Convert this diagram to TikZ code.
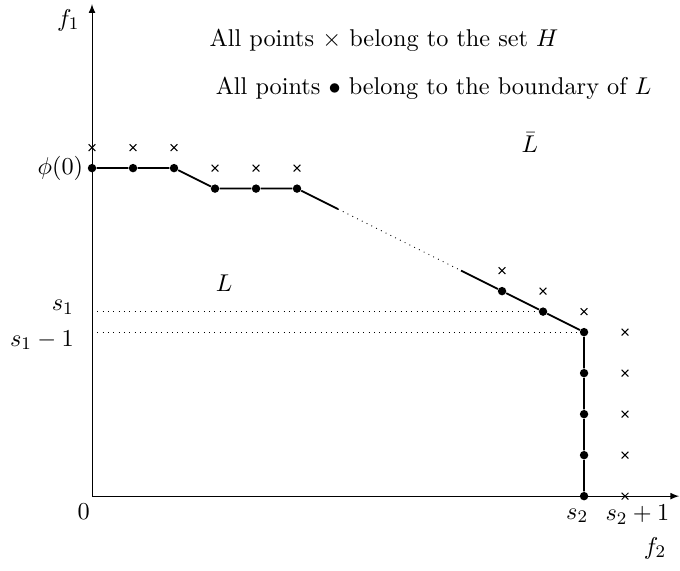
\documentclass[tikz,border=0pt]{standalone}
\usetikzlibrary{shapes.misc}

\begin{document}
\begin{tikzpicture}[
  x=0.65cm, y=0.65cm,
  every node/.style={font=\fontsize{10.95}{13.6}\selectfont},
  dot/.style={circle, fill, inner sep=0pt, minimum size=3.8pt},
  hpt/.style={cross out, draw, line width=0.45pt, inner sep=0pt, minimum size=2.6pt},
  bnd/.style={thick},
  guide/.style={dotted, thin},
]
  \useasboundingbox (-2.244,-1.805) rectangle (14.34,12.10);

  % Axes
  \coordinate (o) at (0,0);
  \coordinate (xend) at (14.32,0);
  \coordinate (yend) at (0,12);
  \draw[-latex] (o) -- (xend);
  \draw[-latex] (o) -- (yend);

  % Points of H
  \foreach \x/\y/\n in {0/8.5/1, 1/8.5/2, 2/8.5/3, 3/8/4, 4/8/5, 5/8/6,
                        10/5.5/7, 11/5/8, 12/4.5/9, 13/4/10, 13/3/11,
                        13/2/12, 13/1/13, 13/0/14}
    \node[hpt] (h\n) at (\x,\y) {};

  % Boundary points of L
  \foreach \x/\y/\n in {0/8/1, 1/8/2, 2/8/3, 3/7.5/4, 4/7.5/5, 5/7.5/6,
                        10/5/7, 11/4.5/8, 12/4/9, 12/3/10, 12/2/11,
                        12/1/12, 12/0/13}
    \node[dot] (b\n) at (\x,\y) {};

  % Boundary of L
  \coordinate (c1) at (6,7);
  \coordinate (c2) at (9,5.5);
  \draw[bnd] (b1) -- (b2) -- (b3) -- (b4) -- (b5) -- (b6) -- (c1);
  \draw[guide] (c1) -- (c2);
  \draw[bnd] (c2) -- (b7) -- (b8) -- (b9) -- (b10) -- (b11) -- (b12) -- (b13);

  % Levels s_1 and s_1-1
  \coordinate (ys1) at (0,4.5);
  \coordinate (ys0) at (0,4);
  \draw[guide] (ys1) -- (b8);
  \draw[guide] (ys0) -- (b9);

  % Labels
  \node (f1) at (-0.58,11.61) {$f_1$};
  \node (f2) at (13.73,-1.27) {$f_2$};
  \node (zero) at (-0.2,-0.37) {$0$};
  \node (s2) at (11.83,-0.48) {$s_2$};
  \node (s2p) at (13.3,-0.45) {$s_2+1$};
  \node[anchor=east, inner sep=1pt] (phi) at (-0.15,8) {$\phi(0)$};
  \node[anchor=east, inner sep=1pt] (s1) at (-0.38,4.6) {$s_1$};
  \node[anchor=east, inner sep=1pt] (s1m) at (-0.38,3.8) {$s_1-1$};
  \node (lset) at (3.22,5.2) {$L$};
  \node (lbar) at (10.68,8.63) {$\bar{L}$};
  \node (noteh) at (7.12,11.12) {All points $\times$ belong to the set $H$};
  \node (notel) at (8.33,9.95) {All points $\bullet$ belong to the boundary of $L$};
\end{tikzpicture}
\end{document}
